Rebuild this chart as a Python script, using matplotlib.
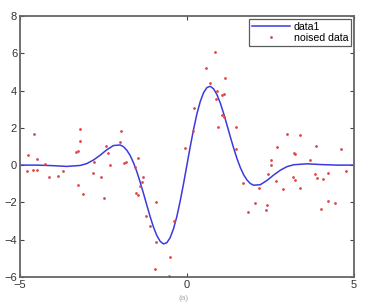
import matplotlib
matplotlib.use("Agg")
import matplotlib.pyplot as plt

plt.rcParams["font.family"] = ["Liberation Sans", "DejaVu Sans"]

# Smooth curve ("data1")
curve_x = [-5, -4.5, -4, -3.6, -3.2, -3.0, -2.8, -2.6, -2.4, -2.2, -2.0, -1.9,
           -1.8, -1.7, -1.6, -1.5, -1.4, -1.3, -1.2, -1.1, -1.0, -0.9, -0.8, -0.7,
           -0.6, -0.5, -0.4, -0.3, -0.2, -0.1, 0.0, 0.1, 0.2, 0.3, 0.4, 0.5, 0.6,
           0.7, 0.8, 0.9, 1.0, 1.1, 1.2, 1.3, 1.4, 1.5, 1.6, 1.7, 1.8, 1.9, 2.0,
           2.2, 2.4, 2.6, 2.8, 3.0, 3.2, 3.6, 4.0, 4.5, 5]
curve_y = [0.00, 0.00, -0.03, -0.07, -0.02, 0.08, 0.27, 0.53, 0.82, 1.05, 1.08, 0.99,
           0.80, 0.52, 0.13, -0.35, -0.91, -1.52, -2.15, -2.77, -3.33, -3.78, -4.09, -4.23,
           -4.16, -3.89, -3.41, -2.75, -1.92, -0.99, 0.00, 0.99, 1.92, 2.75, 3.41, 3.89, 4.16,
           4.23, 4.09, 3.78, 3.33, 2.77, 2.15, 1.52, 0.91, 0.35, -0.13, -0.52, -0.80, -0.99, -1.08,
           -1.05, -0.82, -0.53, -0.27, -0.08, 0.02, 0.07, 0.03, 0.00, 0.00]

# Noisy samples ("noised data")
noise_x = [-4.76, -4.79, -4.61, -4.49, -4.49, -4.58, -4.25, -4.13, -3.86, -3.71,
           -3.32, -3.26, -3.20, -3.20, -3.26, -3.11, -2.81, -2.78, -2.57, -2.49,
           -2.43, -2.31, -1.98, -2.37, -1.89, -1.83, -2.01, -1.47, -1.56, -1.32,
           -1.35, -1.41, -1.53, -1.47, -0.93, -1.23, -1.11, -0.93, -0.96, -0.51,
           -0.54, -0.39, -0.06, 0.21, 0.18, 0.57, 0.84, 0.69, 1.14, 0.90,
           1.05, 1.11, 0.87, 1.05, 1.11, 0.93, 1.47, 1.47, 1.68, 2.16,
           2.04, 1.83, 2.51, 2.51, 3.23, 3.68, 2.43, 2.66, 2.87, 3.17,
           3.23, 3.38, 3.83, 3.89, 4.07, 4.22, 4.76, 2.40, 2.37, 4.22,
           4.43, 4.01, 2.99, 3.38, 2.69, 3.86, 4.61, 3.20]
noise_y = [0.54, -0.32, -0.26, -0.26, 0.33, 1.67, 0.06, -0.64, -0.58, -0.32,
           0.70, 0.76, 1.94, 1.29, -1.07, -1.55, -0.42, 0.17, -0.64, -1.76,
           1.03, 0.01, 1.83, 0.65, 0.11, 0.17, 1.24, 0.38, -0.10, -0.64,
           -0.91, -1.12, -1.50, -1.60, -1.98, -2.73, -3.27, -4.12, -5.57, -4.93,
           -5.95, -3.00, 0.92, 3.06, 1.83, 5.21, 6.07, 4.41, 4.67, 3.98,
           3.76, 3.82, 3.55, 2.69, 2.58, 2.05, 2.05, 0.86, -0.96, -1.23,
           -2.03, -2.51, 0.27, 0.01, 0.60, 0.27, -0.48, -0.85, -1.28, -0.64,
           -0.80, -1.23, -0.48, -0.69, -0.75, -0.42, -0.32, -2.14, -2.41, -1.92,
           -2.03, -2.35, 1.67, 1.62, 0.97, 1.03, 0.86, 0.65]

fig = plt.figure(figsize=(3.69, 3.02), dpi=100)
ax = fig.add_axes([0.054, 0.083, 0.905, 0.864])

ax.plot(curve_x, curve_y, color="#3a3adf", lw=1.1, label="data1")
ax.plot(noise_x, noise_y, ls="none", marker=".", ms=2.0, color="#e04848",
        label="noised data")

ax.set_xlim(-5, 5)
ax.set_ylim(-6, 8)
ax.set_xticks([-5, 0, 5])
ax.set_yticks([-6, -4, -2, 0, 2, 4, 6, 8])
ax.tick_params(direction="in", length=3, width=0.8, color="#444444",
               labelsize=8, labelcolor="#333333", top=True, right=True, pad=2)
for s in ax.spines.values():
    s.set_color("#666666")
    s.set_linewidth(1.3)

leg = ax.legend(loc="upper right", fontsize=7.6, frameon=True, fancybox=False,
                borderaxespad=0.25, handlelength=3.6, handletextpad=0.3,
                borderpad=0.3, labelspacing=0.1)
leg.get_frame().set_edgecolor("#333333")
leg.get_frame().set_linewidth(0.9)

fig.text(0.497, 0.012, "(a)", ha="center", va="center", fontsize=6, color="#aaaaaa")

fig.savefig("out.png", dpi=100)
